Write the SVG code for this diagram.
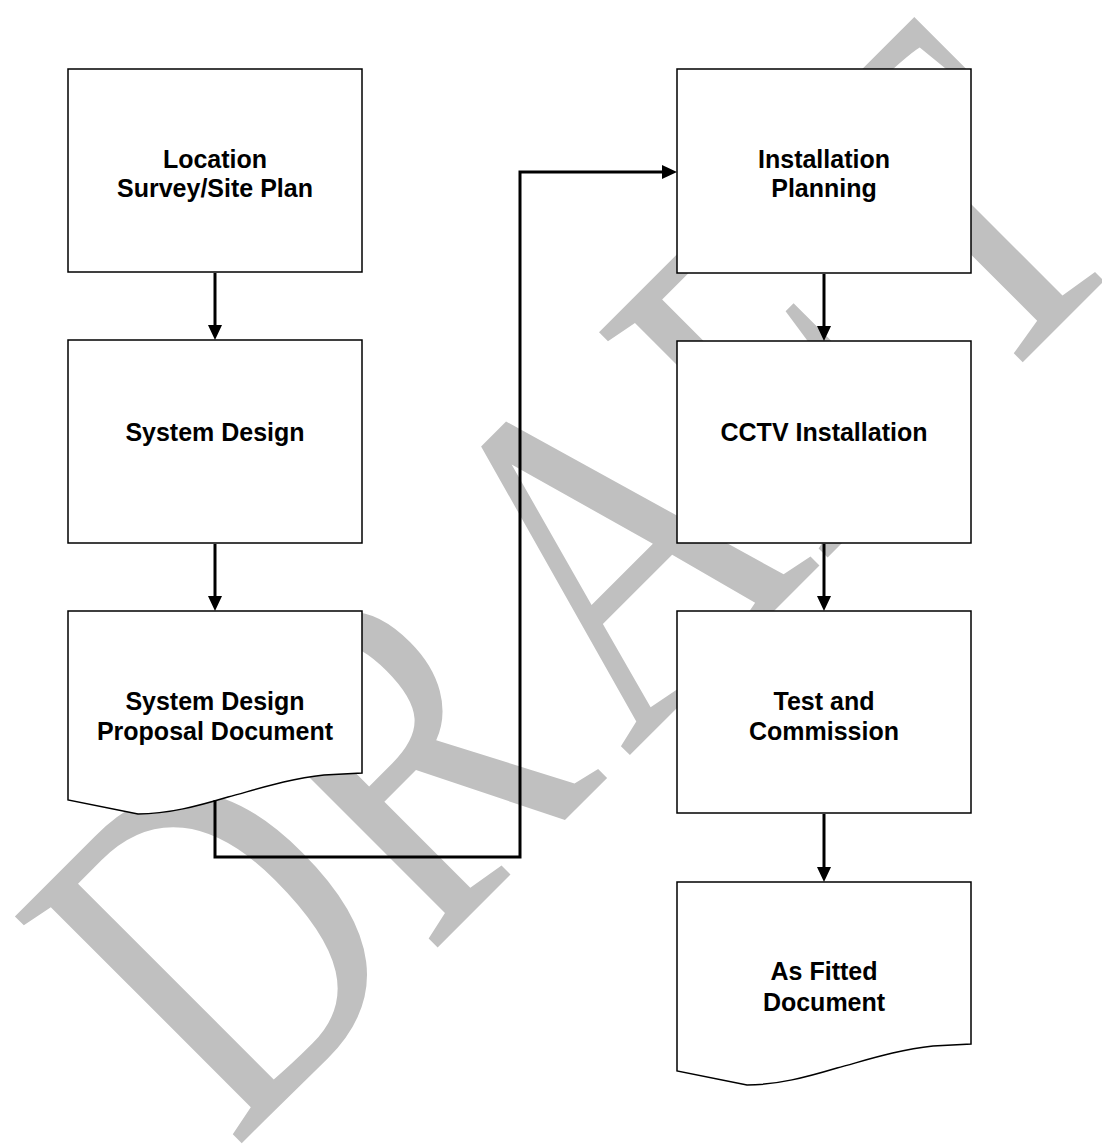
<svg xmlns="http://www.w3.org/2000/svg" width="1102" height="1144" viewBox="0 0 1102 1144">
<style>
.box{fill:#fff;stroke:#000;stroke-width:1.5}
.lbl{font-family:"Liberation Sans",Arial,sans-serif;font-weight:bold;font-size:25px;fill:#000;text-anchor:middle}
.conn{fill:none;stroke:#000;stroke-width:3}
.wm{font-family:"Liberation Serif","Times New Roman",serif;font-size:490px;fill:#c0c0c0}
</style>
<defs>
<marker id="arr" markerUnits="userSpaceOnUse" viewBox="0 0 15 14" refX="5" refY="7" markerWidth="15" markerHeight="14" orient="auto">
<path d="M0,0 L15,7 L0,14 Z" fill="#000"/>
</marker>
<path id="doc" d="M0,0 H294 V162 L256,164 C220,168 190,178 160,186 C130,195 100,203 70,203 L0,189 Z"/>
</defs>
<rect width="1102" height="1144" fill="#fff"/>
<g id="watermark">
<text class="wm" transform="translate(234,1151) rotate(-45) scale(0.776,1)" dx="0 0 36 -6 25">DRAFT</text>
</g>
<g id="n1"><rect class="box" x="68" y="69" width="294" height="203"/>
<text class="lbl" x="215" y="168">Location</text><text class="lbl" x="215" y="197">Survey/Site Plan</text></g>
<g id="n2"><rect class="box" x="68" y="340" width="294" height="203"/>
<text class="lbl" x="215" y="441">System Design</text></g>
<g id="n3"><use href="#doc" class="box" x="68" y="611"/>
<text class="lbl" x="215" y="710">System Design</text><text class="lbl" x="215" y="740">Proposal Document</text></g>
<g id="n4"><rect class="box" x="677" y="69" width="294" height="204"/>
<text class="lbl" x="824" y="168">Installation</text><text class="lbl" x="824" y="197">Planning</text></g>
<g id="n5"><rect class="box" x="677" y="341" width="294" height="202"/>
<text class="lbl" x="824" y="441">CCTV Installation</text></g>
<g id="n6"><rect class="box" x="677" y="611" width="294" height="202"/>
<text class="lbl" x="824" y="710">Test and</text><text class="lbl" x="824" y="740">Commission</text></g>
<g id="n7"><use href="#doc" class="box" x="677" y="882"/>
<text class="lbl" x="824" y="980">As Fitted</text><text class="lbl" x="824" y="1011">Document</text></g>
<g id="connectors">
<path class="conn" d="M215,273 V330" marker-end="url(#arr)"/>
<path class="conn" d="M215,544 V601" marker-end="url(#arr)"/>
<path class="conn" d="M215,800 V857 H520 V172 H667" marker-end="url(#arr)"/>
<path class="conn" d="M824,274 V331" marker-end="url(#arr)"/>
<path class="conn" d="M824,544 V601" marker-end="url(#arr)"/>
<path class="conn" d="M824,814 V872" marker-end="url(#arr)"/>
</g>
</svg>
